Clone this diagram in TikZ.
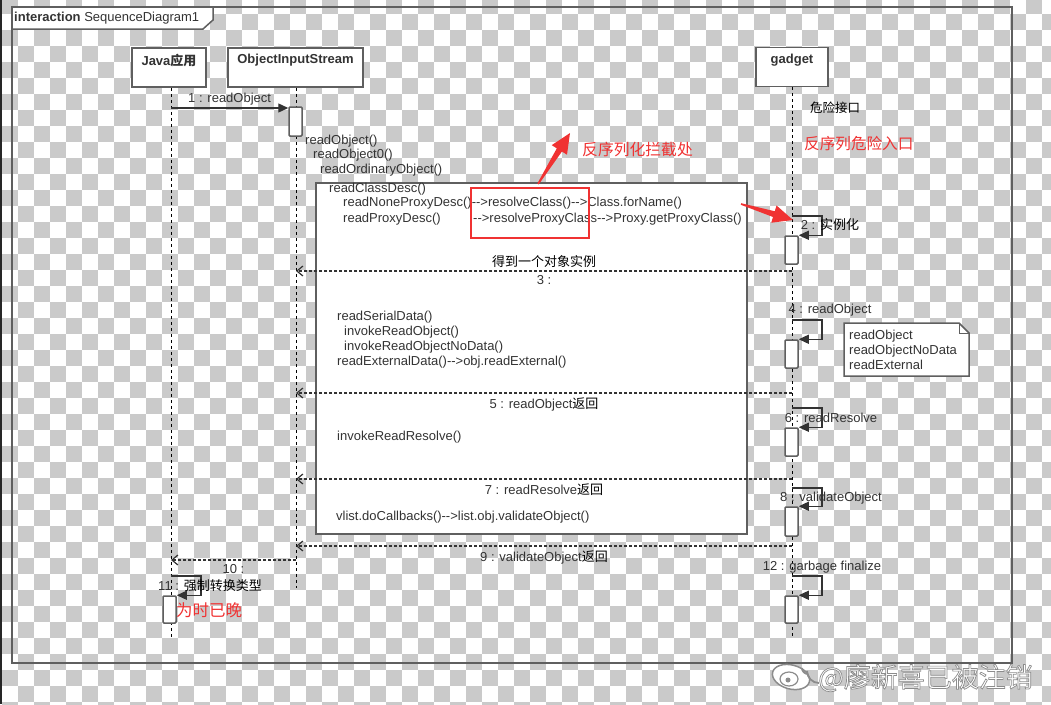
\documentclass[tikz,border=0pt]{standalone}
\usepackage{fontspec}
\setmainfont{Liberation Sans}[Ligatures=TeXOff]
\newfontfamily\cjk{Noto Sans CJK SC}
\usetikzlibrary{arrows.meta,calc}

\definecolor{chk}{RGB}{202,202,202}
\definecolor{edge}{RGB}{95,95,95}
\definecolor{ink}{RGB}{51,51,51}
\definecolor{alarm}{RGB}{240,50,50}
\newcommand\diagfont{\fontsize{13pt}{15pt}\selectfont}
\newcommand\cn[1]{\textcolor{black}{\cjk #1}}
\newcommand\outlined[1]{\special{pdf:literal direct 2 Tr 0.7 w 0.55 G}#1\special{pdf:literal direct 0 Tr}}
\newcommand\redarrow[2]{%
  \coordinate (hb) at ($(#2)!20pt!(#1)$);
  \fill[alarm] ($(#1)!0.8pt!90:(#2)$) -- ($(hb)!3pt!90:(#2)$) -- ($(hb)!9pt!90:(#2)$) -- (#2)
    -- ($(hb)!9pt!-90:(#2)$) -- ($(hb)!3pt!-90:(#2)$) -- ($(#1)!0.8pt!-90:(#2)$) -- cycle;}

\tikzset{
  head/.style={draw=edge, line width=1.5pt, fill=white, minimum height=39pt, inner sep=0pt},
  headtxt/.style={anchor=north, inner sep=0pt, font=\diagfont\bfseries, text=ink, yshift=-7pt},
  lifeline/.style={black, line width=0.8pt, dash pattern=on 3pt off 3pt},
  act/.style={draw=edge, line width=1.5pt, fill=white, rounded corners=1pt, minimum width=13pt, inner sep=0pt},
  msg/.style={ink, line width=1.3pt, -{Triangle[length=10pt,width=9pt]}},
  ret/.style={ink, line width=1.2pt, dash pattern=on 3pt off 2pt, -{Straight Barb[length=6pt,width=10pt]}},
  lbl/.style={font=\diagfont, text=ink, inner sep=1pt},
  code/.style={font=\diagfont, text=ink, anchor=west, inner sep=0pt},
  redtxt/.style={text=alarm, anchor=west, inner sep=0pt}
}

\begin{document}
\begin{tikzpicture}[x=1pt,y=-1pt]
\useasboundingbox (0,0) rectangle (1051,704);
\fill[white] (0,0) rectangle (1051,704);
\begin{scope}
  \clip (0,0) rectangle (1051,704);
  \foreach \j in {0,...,44}{
    \pgfmathtruncatemacro\s{mod(\j,2)}
    \foreach \i in {-2,0,...,64}
      \fill[chk] ({2+16*(\i+\s)},{-2+16*\j}) rectangle ++(16,16);
  }
\end{scope}
\fill[black!85] (0,0) rectangle (2,704);

\draw[edge, line width=2pt] (12,7) rectangle (1012,663);
\draw[edge, line width=1.5pt, fill=white] (12,7) -- (213,7) -- (213,20) -- (203,29) -- (12,29) -- cycle;
\node[code] (title) at (14,18) {\textbf{interaction} SequenceDiagram1};

\node[head, minimum width=74pt] (javahead) at (169,67.5) {};
\node[head, minimum width=135pt] (oishead) at (295.5,67.5) {};
\node[head, minimum width=72pt] (gadgethead) at (792,67) {};
\node[headtxt] (javatxt) at (javahead.north) {Java{\cjk 应用}};
\node[headtxt] (oistxt) at (oishead.north) {ObjectInputStream};
\node[headtxt] (gadgettxt) at (gadgethead.north) {gadget};

\coordinate (javaend) at (171,637);
\coordinate (oisend) at (296,588);
\coordinate (gadgetend) at (792,636);
\draw[lifeline] (javahead.south -| javaend) -- (javaend);
\draw[lifeline] (oishead.south -| oisend) -- (oisend);
\draw[lifeline] (gadgethead.south -| gadgetend) -- (gadgetend);

\node[act, minimum height=29pt] (a1) at (295.5,121.5) {};
\node[act, minimum height=28pt] (a2) at (791.5,250) {};
\node[act, minimum height=28pt] (a4) at (791.5,354) {};
\node[act, minimum height=28pt] (a6) at (791.5,442) {};
\node[act, minimum height=29pt] (a8) at (791.5,521.5) {};
\node[act, minimum height=27pt] (a12) at (791.5,609.5) {};
\node[act, minimum height=27pt] (a11) at (169.5,609.5) {};

\node[draw=edge, line width=1.5pt, fill=white, minimum width=431pt, minimum height=351pt] (desc) at (531.5,358.5) {};

\coordinate (m1) at (171,108);
\draw[msg] (m1) -- (m1 -| a1.west) node[lbl, midway, above=1pt] (l1) {1 : readObject};

\coordinate (g2) at (792,216);
\coordinate (g4) at (792,320);
\coordinate (g6) at (792,408);
\coordinate (g8) at (792,488);
\coordinate (g12) at (792,576);
\coordinate (j11) at (171,576);
\draw[msg] (g2) -- ++(30,0) |- (a2.north east);
\draw[msg] (g4) -- ++(30,0) |- (a4.north east);
\draw[msg] (g6) -- ++(30,0) |- (a6.north east);
\draw[msg] (g8) -- ++(30,0) |- (a8.north east);
\draw[msg] (g12) -- ++(30,0) |- (a12.north east);
\draw[msg] (j11) -- ++(30,0) |- (a11.north east);
\node[lbl] (l2) at (830,225) {2 : \cn{实例化}};
\node[lbl] (l4) at (830,310) {4 : readObject};
\node[lbl] (l6) at (831,418) {6 : readResolve};
\node[lbl] (l8) at (831,498) {8 : validateObject};
\node[lbl] (l12) at (822,567) {12 : garbage finalize};
\node[lbl] (l11) at (210,586) {11 : \cn{强制转换类型}};

\coordinate (r3) at (792,271);
\coordinate (r5) at (792,393);
\coordinate (r7) at (792,479);
\coordinate (r9) at (792,546);
\coordinate (r10) at (296,560);
\draw[ret] (r3) -- (r3 -| oisend) node[lbl, midway, below=3pt] (l3) {3 :}
  node[lbl, midway, above=2pt] (l3b) {\cn{得到一个对象实例}};
\draw[ret] (r5) -- (r5 -| oisend) node[lbl, midway, below=3pt] (l5) {5 : readObject\cn{返回}};
\draw[ret] (r7) -- (r7 -| oisend) node[lbl, midway, below=3pt] (l7) {7 : readResolve\cn{返回}};
\draw[ret] (r9) -- (r9 -| oisend) node[lbl, midway, below=3pt] (l9) {9 : validateObject\cn{返回}};
\draw[ret] (r10) -- (r10 -| javaend) node[lbl, midway, below=3pt] (l10) {10 :};

\node[code] (c1) at (305,141) {readObject()};
\node[code] (c2) at (313,155) {readObject0()};
\node[code] (c3) at (320,170) {readOrdinaryObject()};
\node[code] (c4) at (329,189) {readClassDesc()};
\node[code] (c5) at (343,203) {readNoneProxyDesc()-->resolveClass()-->Class.forName()};
\node[code] (c6) at (343,219) {readProxyDesc()};
\node[code] (c7) at (473,219) {-->resolveProxyClass-->Proxy.getProxyClass()};
\node[code] (c8) at (337,317) {readSerialData()};
\node[code] (c9) at (344,332) {invokeReadObject()};
\node[code] (c10) at (344,347) {invokeReadObjectNoData()};
\node[code] (c11) at (337,362) {readExternalData()-->obj.readExternal()};
\node[code] (c12) at (337,437) {invokeReadResolve()};
\node[code] (c13) at (336,517) {vlist.doCallbacks()-->list.obj.validateObject()};

\draw[edge, line width=1.5pt, fill=white] (844,323) -- (959,323) -- (969,333) -- (969,376) -- (844,376) -- cycle;
\draw[edge, line width=1pt] (959,323) -- (959,333) -- (969,333);
\node[code, anchor=north west, align=left] (note) at (849,330) {readObject\\readObjectNoData\\readExternal};

\node[redtxt, font=\cjk\fontsize{12.5pt}{14pt}\selectfont, text=black] (danger) at (810,108) {危险接口};
\node[redtxt, font=\cjk\fontsize{15.6pt}{17pt}\selectfont] (entry) at (804,144) {反序列危险入口};
\node[redtxt, font=\cjk\fontsize{15.8pt}{17pt}\selectfont] (hook) at (582,149) {反序列化拦截处};
\node[redtxt, font=\cjk\fontsize{16.5pt}{18pt}\selectfont] (late) at (176,610) {为时已晚};

\draw[alarm, line width=2pt] (471,188) rectangle (589,238);
\coordinate (t1) at (538,184);
\coordinate (h1) at (570,133);
\coordinate (t2) at (741,204);
\coordinate (h2) at (793,220);
\redarrow{t1}{h1}
\redarrow{t2}{h2}

\node[anchor=west, inner sep=0pt, text=white, font=\cjk\fontsize{27pt}{29pt}\selectfont] (wm) at (818,678) {\outlined{@廖新喜已被注销}};
\draw[black!45, line width=1.5pt, fill=white, rotate around={-15:(791,677)}] (791,677) ellipse (19 and 12);
\draw[black!45, line width=1.2pt, fill=white] (789,679) ellipse (9 and 7);
\fill[black!45] (788,680) circle (2.5);
\draw[black!45, line width=1.8pt] (802,668) arc (0:-90:-6);
\draw[black!45, line width=1.8pt] (807,671) arc (0:-90:-12);
\end{tikzpicture}
\end{document}
